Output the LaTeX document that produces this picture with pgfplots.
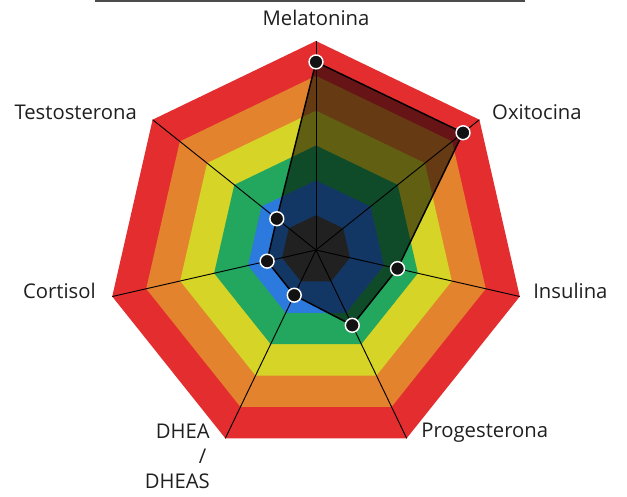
\documentclass[border=0pt]{standalone}
\usepackage{fontspec}
\setmainfont{Open Sans}
\usepackage{pgfplots}
\usepgfplotslibrary{polar}
\pgfplotsset{compat=1.18}
\definecolor{cRed}{RGB}{227,45,47}
\definecolor{cOrange}{RGB}{228,131,46}
\definecolor{cYellow}{RGB}{215,212,40}
\definecolor{cGreen}{RGB}{35,166,93}
\definecolor{cBlue}{RGB}{44,122,222}
\definecolor{cCore}{RGB}{75,75,75}
\tikzset{lbl/.style={font=\fontsize{15.2}{18.75}\selectfont, text=black!88, inner sep=0pt}}
\begin{document}
\begin{tikzpicture}
\begin{polaraxis}[
  hide axis, scale only axis, width=313.5pt, height=313.5pt,
  ymin=0, ymax=1, clip=false,
]
% bands
\addplot[fill=cRed, draw=none] coordinates {(90,1) (38.571,1) (347.143,1) (295.714,1) (244.286,1) (192.857,1) (141.429,1)} --cycle;
\addplot[fill=cOrange, draw=none] coordinates {(90,0.8333) (38.571,0.8333) (347.143,0.8333) (295.714,0.8333) (244.286,0.8333) (192.857,0.8333) (141.429,0.8333)} --cycle;
\addplot[fill=cYellow, draw=none] coordinates {(90,0.6667) (38.571,0.6667) (347.143,0.6667) (295.714,0.6667) (244.286,0.6667) (192.857,0.6667) (141.429,0.6667)} --cycle;
\addplot[fill=cGreen, draw=none] coordinates {(90,0.5) (38.571,0.5) (347.143,0.5) (295.714,0.5) (244.286,0.5) (192.857,0.5) (141.429,0.5)} --cycle;
\addplot[fill=cBlue, draw=none] coordinates {(90,0.3333) (38.571,0.3333) (347.143,0.3333) (295.714,0.3333) (244.286,0.3333) (192.857,0.3333) (141.429,0.3333)} --cycle;
\addplot[fill=cCore, draw=none] coordinates {(90,0.1667) (38.571,0.1667) (347.143,0.1667) (295.714,0.1667) (244.286,0.1667) (192.857,0.1667) (141.429,0.1667)} --cycle;
% spokes
\addplot[black, line width=0.7pt] coordinates {(90,0) (90,1)};
\addplot[black, line width=0.7pt] coordinates {(38.571,0) (38.571,1)};
\addplot[black, line width=0.7pt] coordinates {(347.143,0) (347.143,1)};
\addplot[black, line width=0.7pt] coordinates {(295.714,0) (295.714,1)};
\addplot[black, line width=0.7pt] coordinates {(244.286,0) (244.286,1)};
\addplot[black, line width=0.7pt] coordinates {(192.857,0) (192.857,1)};
\addplot[black, line width=0.7pt] coordinates {(141.429,0) (141.429,1)};
% data polygon
\addplot[draw=black, line width=1.1pt, fill=black, fill opacity=0.55] coordinates {(90,0.90) (38.571,0.90) (347.143,0.40) (295.714,0.40) (244.286,0.24) (192.857,0.24) (141.429,0.24)} --cycle;
\addplot[only marks, mark=*, mark size=5.2pt, mark options={fill=black!93, draw=white, line width=1.1pt}] coordinates {(90,0.90) (38.571,0.90) (347.143,0.40) (295.714,0.40) (244.286,0.24) (192.857,0.24) (141.429,0.24)};
% labels
\node[lbl, anchor=center] at (axis cs:90,1.11) {Melatonina};
\node[lbl, anchor=west] at (axis cs:38.1,1.07) {Oxitocina};
\node[lbl, anchor=west] at (axis cs:349.3,1.057) {Insulina};
\node[lbl, anchor=west] at (axis cs:299.85,1.01) {Progesterona};
\node[lbl, anchor=north east, align=right] at (axis cs:238.65,0.975) {DHEA\\/\,\\DHEAS};
\node[lbl, anchor=east] at (axis cs:190.56,1.071) {Cortisol};
\node[lbl, anchor=east] at (axis cs:142.37,1.081) {Testosterona};
\coordinate (c) at (axis cs:0,0);
\end{polaraxis}
\draw[line width=1.6pt, black!70] ([shift={(-165.75pt,186.6pt)}]c) -- ([shift={(156.75pt,186.6pt)}]c);
\pgfresetboundingbox
\path[use as bounding box] ([shift={(-237pt,187.5pt)}]c) rectangle ([shift={(233.25pt,-184.5pt)}]c);
\end{tikzpicture}
\end{document}
